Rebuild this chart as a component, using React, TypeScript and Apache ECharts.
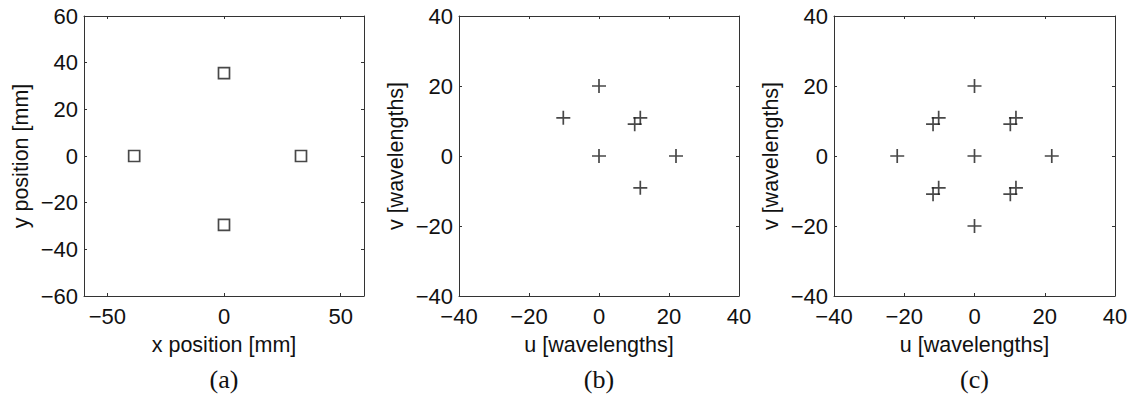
import React, { useEffect, useRef } from "react";
import * as echarts from "echarts";

// (a) antenna positions [mm]
const antX = [0, 0, -38.5, 33];
const antY = [35.5, -29.5, 0, 0];
// (b) uv coverage, one half
const bU = [0, -10.2, 0, 10.2, 11.8, 22, 11.8];
const bV = [20, 10.9, 0, 9.1, 10.9, 0, -9.1];
// (c) uv coverage, full
const cU = [0, 0, 0, -22, 22, -11.8, -10.2, 10.2, 11.8, -11.8, -10.2, 10.2, 11.8];
const cV = [20, 0, -20, 0, 0, 9.1, 10.9, 9.1, 10.9, -10.9, -9.1, -10.9, -9.1];

const aXTicks = [-50, 0, 50];
const aYTicks = [-60, -40, -20, 0, 20, 40, 60];
const uvTicks = [-40, -20, 0, 20, 40];

const panelLabels = ["(a)", "(b)", "(c)"];

const FONT = "Liberation Sans";
const TXT = "#111";
const LINE = "#333";
const PLUS = "path://M0 7H14M7 0V14";

const fmt = (v: number) => String(v).replace("-", "\u2212");

function makeAxes(gi: number, dim: "x" | "y", min: number, max: number, ticks: number[], name: string) {
  const base = {
    gridIndex: gi,
    type: "value",
    min,
    max,
    splitLine: { show: false },
    axisLine: { show: true, onZero: false, lineStyle: { color: LINE, width: 1 } },
    axisTick: { show: true, inside: true, length: 3, customValues: ticks, lineStyle: { color: LINE, width: 1 } },
  };
  const main: any = {
    ...base,
    position: dim === "x" ? "bottom" : "left",
    axisLabel: {
      show: true,
      customValues: ticks,
      formatter: fmt,
      fontSize: 22,
      fontFamily: FONT,
      color: TXT,
      margin: dim === "x" ? 9 : 6,
    },
    name,
    nameLocation: "middle",
    nameGap: dim === "x" ? 38 : 52,
    nameTextStyle: { fontSize: 21.5, fontFamily: FONT, color: TXT },
  };
  const mirror: any = {
    ...base,
    position: dim === "x" ? "top" : "right",
    axisLabel: { show: false },
  };
  return [main, mirror];
}

export default function App() {
  const ref = useRef<HTMLDivElement>(null);
  useEffect(() => {
    if (!ref.current) return;
    const chart = echarts.init(ref.current, null, { renderer: "svg" });
    const grids = [
      { left: 84, top: 16, width: 280, height: 280 },
      { left: 459, top: 16, width: 280, height: 280 },
      { left: 834, top: 16, width: 281, height: 280 },
    ];
    const xAxis = [
      ...makeAxes(0, "x", -60, 60, aXTicks, "x position [mm]"),
      ...makeAxes(1, "x", -40, 40, uvTicks, "u [wavelengths]"),
      ...makeAxes(2, "x", -40, 40, uvTicks, "u [wavelengths]"),
    ];
    const yAxis = [
      ...makeAxes(0, "y", -60, 60, aYTicks, "y position [mm]"),
      ...makeAxes(1, "y", -40, 40, uvTicks, "v [wavelengths]"),
      ...makeAxes(2, "y", -40, 40, uvTicks, "v [wavelengths]"),
    ];
    const plusStyle = { color: "rgba(0,0,0,0)", borderColor: "#1a1a1a", borderWidth: 1.7 };
    const series: any[] = [
      {
        type: "scatter",
        xAxisIndex: 0,
        yAxisIndex: 0,
        symbol: "rect",
        symbolSize: 11,
        itemStyle: { color: "rgba(0,0,0,0)", borderColor: "#1a1a1a", borderWidth: 1.7 },
        data: antX.map((x, i) => [x, antY[i]]),
      },
      {
        type: "scatter",
        xAxisIndex: 2,
        yAxisIndex: 2,
        symbol: PLUS,
        symbolSize: 14,
        itemStyle: plusStyle,
        data: bU.map((u, i) => [u, bV[i]]),
      },
      {
        type: "scatter",
        xAxisIndex: 4,
        yAxisIndex: 4,
        symbol: PLUS,
        symbolSize: 14,
        itemStyle: plusStyle,
        data: cU.map((u, i) => [u, cV[i]]),
      },
    ];
    const centers = [224, 599, 974.5];
    const graphic = panelLabels.map((t, i) => ({
      type: "text",
      x: centers[i],
      y: 379,
      style: {
        text: t,
        fontSize: 26,
        fontFamily: "Liberation Serif",
        fill: TXT,
        textAlign: "center",
        textVerticalAlign: "middle",
      },
    }));
    chart.setOption({
      animation: false,
      backgroundColor: "#fff",
      grid: grids,
      xAxis,
      yAxis,
      series,
      graphic,
    });
    return () => chart.dispose();
  }, []);
  return (
    <div
      ref={ref}
      style={{ position: "fixed", left: 0, top: 0, width: 1132, height: 394 }}
    />
  );
}
